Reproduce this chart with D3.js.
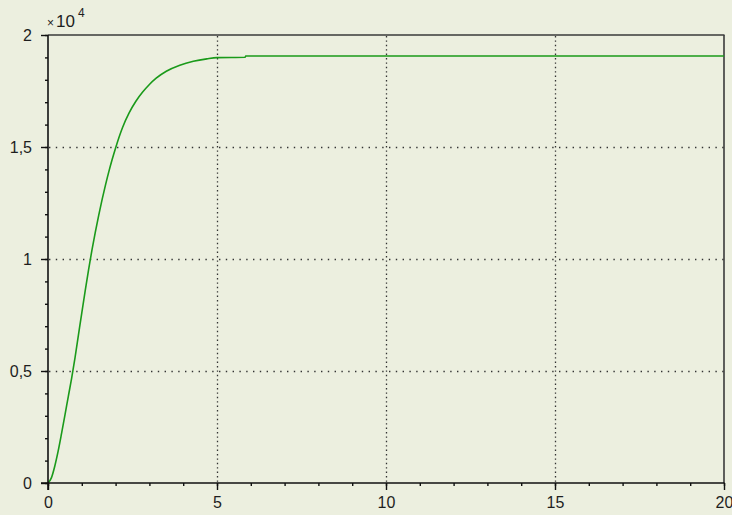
<!DOCTYPE html>
<html><head><meta charset="utf-8">
<script src="https://cdn.jsdelivr.net/npm/d3@7"></script>
<style>
html,body{margin:0;padding:0;background:#ECEFDF;}
svg{display:block;}
text{font-family:"Liberation Sans","DejaVu Sans",sans-serif;fill:#1e1e1e;}
</style></head>
<body>
<svg id="c" width="732" height="515"></svg>
<script>
// Data (time vs. response)
const tValues = [0, 0.1, 0.2, 0.3, 0.4, 0.5, 0.6, 0.7, 0.8, 0.9, 1.0, 1.1, 1.2, 1.3, 1.4, 1.5, 1.6, 1.7, 1.8, 1.9, 2.0, 2.2, 2.4, 2.6, 2.8, 3.0, 3.2, 3.5, 3.9, 4.3, 4.7, 5.0, 5.83, 5.85, 20];
const yValues = [0, 230, 750, 1420, 2200, 3020, 3860, 4680, 5600, 6600, 7600, 8580, 9520, 10400, 11200, 11950, 12650, 13300, 13900, 14450, 14960, 15850, 16520, 17040, 17450, 17790, 18070, 18380, 18650, 18825, 18935, 18990, 19005, 19062, 19060];
const xTicks = [0, 5, 10, 15, 20];
const yTicks = [0, 5000, 10000, 15000, 20000];
const yTickLabels = ["0", "0,5", "1", "1,5", "2"];
const xMinorTicks = d3.range(0, 21, 1);
const yMinorTicks = d3.range(0, 20001, 1000);

const svg = d3.select("#c");
const L = 48, R = 724, T = 35, B = 483;
const x = d3.scaleLinear().domain([0, 20]).range([L, R]);
const y = d3.scaleLinear().domain([0, 20000]).range([B, T]);

// grid
const g = svg.append("g");
g.selectAll("line.h").data(yTicks.slice(1, -1)).join("line")
  .attr("x1", L + 1).attr("x2", R).attr("y1", d => y(d) + 0.5).attr("y2", d => y(d) + 0.5)
  .attr("stroke", "#333").attr("stroke-width", 1.3).attr("stroke-dasharray", "1.4,5.4");
g.selectAll("line.v").data(xTicks.slice(1, -1)).join("line")
  .attr("y1", T + 1).attr("y2", B).attr("x1", d => x(d) + 0.5).attr("x2", d => x(d) + 0.5)
  .attr("stroke", "#333").attr("stroke-width", 1.3).attr("stroke-dasharray", "1.4,3");

// top/right borders
svg.append("line").attr("x1", L).attr("x2", R + 0.5).attr("y1", T).attr("y2", T).attr("stroke", "#3a3a3a").attr("stroke-width", 1.6);
svg.append("line").attr("x1", R).attr("x2", R).attr("y1", T).attr("y2", B).attr("stroke", "#3a3a3a").attr("stroke-width", 1.6);

// curve
const pts = tValues.map((t, i) => [t, yValues[i]]);
svg.append("path").datum(pts)
  .attr("fill", "none").attr("stroke", "#1a9a1a").attr("stroke-width", 1.6)
  .attr("d", d3.line().x(d => x(d[0])).y(d => y(d[1])).curve(d3.curveMonotoneX));

// axes
function styleAxis(sel) {
  sel.select(".domain").remove();
  sel.selectAll("line").attr("stroke", "#111").attr("stroke-width", 1.4);
}
const yMinor = svg.append("g").attr("transform", `translate(${L},0)`)
  .call(d3.axisLeft(y).tickValues(yMinorTicks).tickSize(3).tickFormat(""));
styleAxis(yMinor);
const yMajor = svg.append("g").attr("transform", `translate(${L},0)`)
  .call(d3.axisLeft(y).tickValues(yTicks).tickSize(7).tickPadding(9).tickFormat((d, i) => yTickLabels[i]));
styleAxis(yMajor);
yMajor.selectAll("text").attr("font-size", 16).attr("dy", "0.36em").style("fill", "#1e1e1e");

const xMinor = svg.append("g").attr("transform", `translate(0,${B})`)
  .call(d3.axisBottom(x).tickValues(xMinorTicks).tickSize(3).tickFormat(""));
styleAxis(xMinor);
const xMajor = svg.append("g").attr("transform", `translate(0,${B})`)
  .call(d3.axisBottom(x).tickValues(xTicks).tickSize(7).tickPadding(7).tickFormat(d => String(d)));
styleAxis(xMajor);
xMajor.selectAll("text").attr("font-size", 16).style("fill", "#1e1e1e");

// axis lines
svg.append("line").attr("x1", L).attr("x2", L).attr("y1", T).attr("y2", B + 7).attr("stroke", "#111").attr("stroke-width", 1.6);
svg.append("line").attr("x1", L - 7).attr("x2", R + 0.5).attr("y1", B).attr("y2", B).attr("stroke", "#111").attr("stroke-width", 1.6);

// exponent label
svg.append("text").attr("x", 47).attr("y", 27).attr("font-size", 12).text("×");
svg.append("text").attr("x", 56).attr("y", 27).attr("font-size", 17).text("10");
svg.append("text").attr("x", 78).attr("y", 17).attr("font-size", 12).text("4");
</script>
</body></html>
